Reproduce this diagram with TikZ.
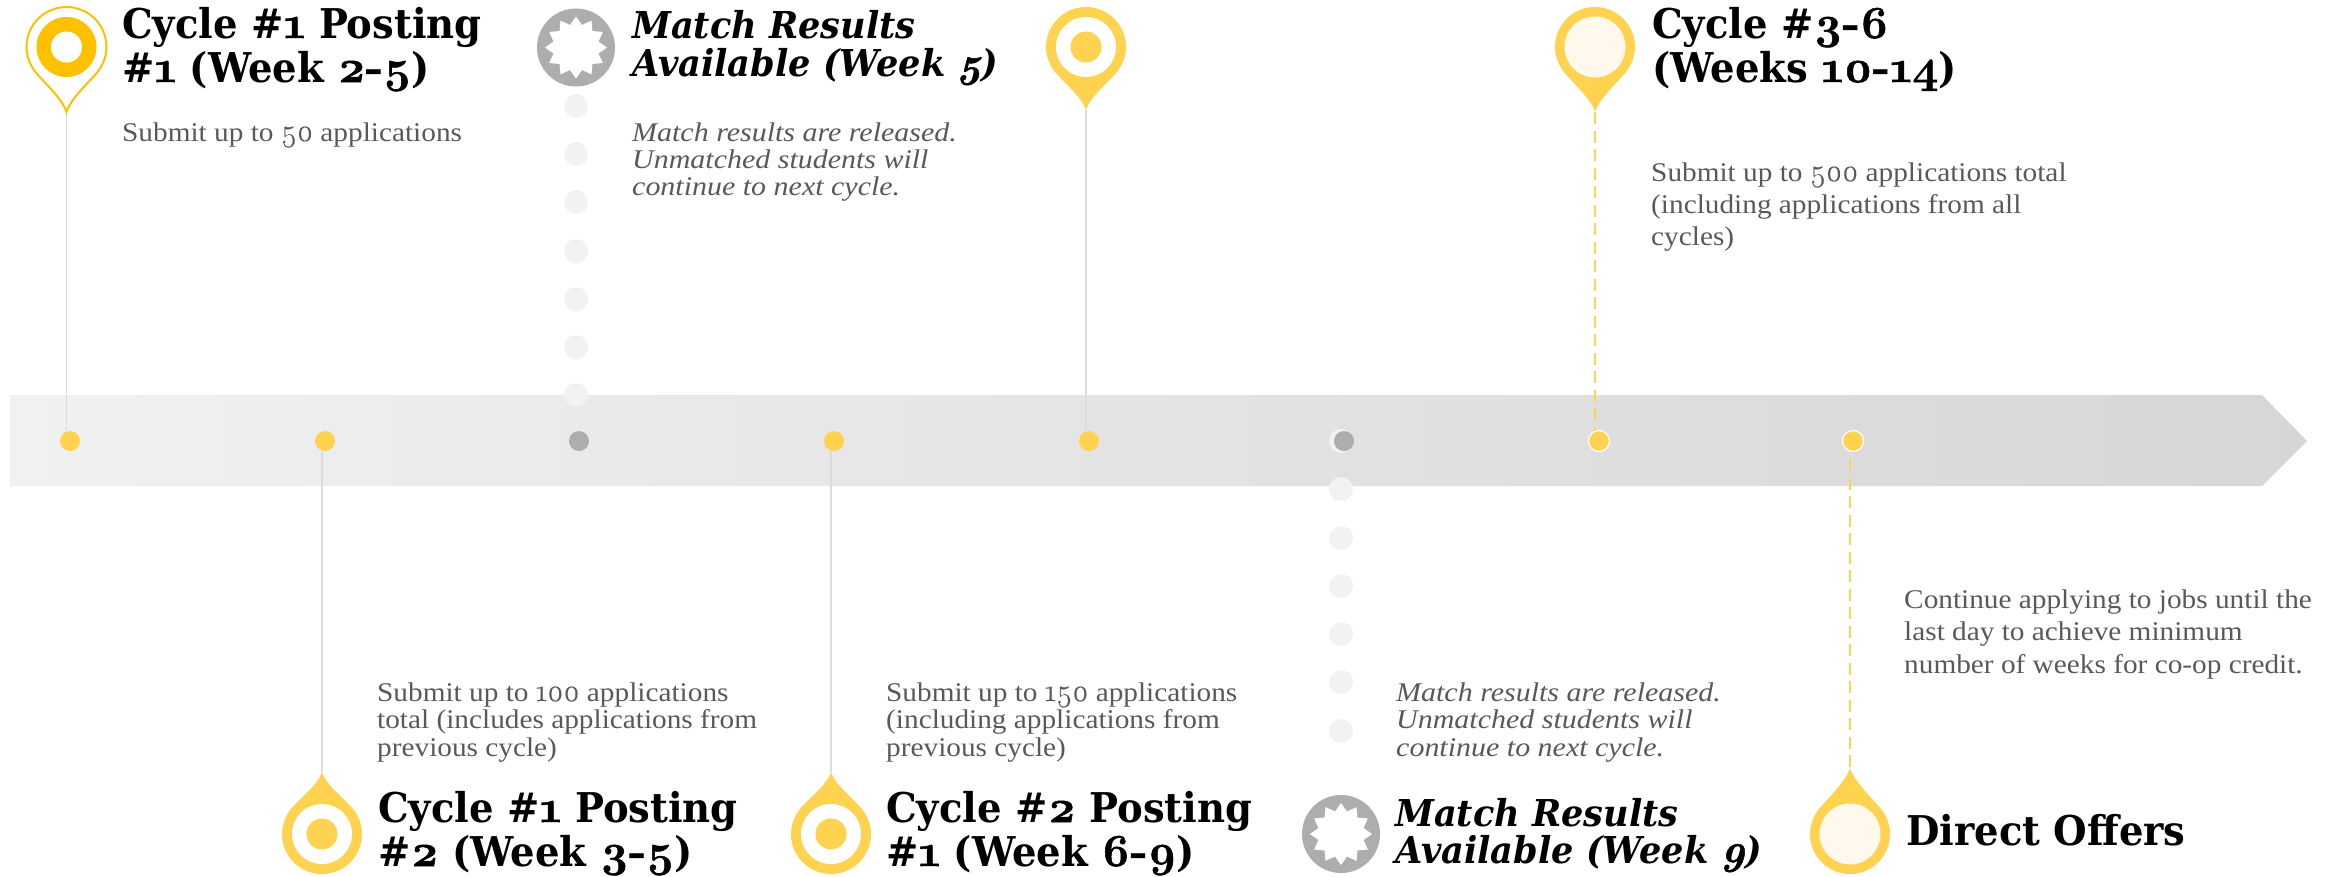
\documentclass[tikz,border=0pt]{standalone}
\usepackage{fontspec}
\usetikzlibrary{shapes.geometric}
\setmainfont{Liberation Serif}
\newfontfamily\bodyfam{Liberation Serif}[FakeStretch=1.085]
\newfontfamily\bodyitfam{Liberation Serif}[FakeStretch=1.11]
\newfontfamily\ttlfam{DejaVu Serif}[FakeStretch=0.94]
\newfontfamily\ttlitfam{DejaVu Serif}[FakeStretch=0.95]
\newfontfamily\onumfam{Latin Modern Roman}[Numbers=OldStyle,Scale=1.15,FakeBold=0.4]
\newfontfamily\onumbfam{Latin Modern Roman}[Numbers=OldStyle,Scale=1.12,FakeBold=1.2]
\newcommand\ON[1]{{\onumfam\mdseries #1}}
\newcommand\ONB[1]{{\onumbfam\bfseries #1}}
\definecolor{pinyellow}{HTML}{FFD34F}
\definecolor{pinorange}{HTML}{FFC000}
\definecolor{badgegray}{HTML}{ADADAD}
\definecolor{paledot}{HTML}{F2F2F2}
\definecolor{cream}{HTML}{FFF8EC}
\definecolor{bodygray}{HTML}{595959}
\definecolor{leader}{HTML}{DCDCDC}
\newcommand\lineblock[1]{\vtop{\lineskiplimit=-100pt #1}}
\newcommand\titlefont[1]{\ttlfam\bfseries\fontsize{#1}{#1}\selectfont}
\newcommand\titleitfont[1]{\ttlitfam\bfseries\itshape\fontsize{#1}{#1}\selectfont}
\tikzset{
  x=1pt,y=-1pt,
  pinhead/.pic={\path[pic actions]
    (0,#1) .. controls (-4,{#1-13}) and (-21,37) .. (-31,25)
    .. controls (-36.6,18) and (-40,9) .. (-40,0)
    .. controls (-40,-22.1) and (-22.1,-40) .. (0,-40)
    .. controls (22.1,-40) and (40,-22.1) .. (40,0)
    .. controls (40,9) and (36.6,18) .. (31,25)
    .. controls (21,37) and (4,{#1-13}) .. (0,#1) -- cycle;},
  marker/.style={circle,fill=pinyellow,minimum size=20,inner sep=0},
  markerw/.style={marker,draw=white,line width=1.2,minimum size=21},
  markerg/.style={marker,fill=badgegray},
  pale/.style={circle,fill=paledot,minimum size=24,inner sep=0},
  disc/.style={circle,minimum size=#1,inner sep=0},
  badge/.style={circle,fill=badgegray,minimum size=78,inner sep=0},
  burst/.style={star,star points=12,star point ratio=1.33,fill=white,minimum size=62,inner sep=0},
  leaderline/.style={leader,line width=1.5},
  dashline/.style={pinyellow,line width=2.6,dash pattern=on 12 off 6.5},
  ttl/.style={anchor=base west,inner sep=0,text=black},
  bodytxt/.style={anchor=base west,inner sep=0,text=bodygray},
}
\begin{document}
\begin{tikzpicture}
\useasboundingbox (0,0) rectangle (2343,876);
% bar
\shade[left color=black!5.5,right color=black!16] (10,395) -- (2262,395) -- (2307,441) -- (2262,486) -- (10,486) -- cycle;

% pale dotted leaders
\foreach \i/\yy in {1/106,2/154,3/202,4/251,5/299,6/347,7/395}
  \node[pale] (ua\i) at (576,\yy) {};
\node[pale] (lb0) at (1341,441) {};
\foreach \i/\yy in {1/489,2/538,3/586,4/634,5/682,6/731}
  \node[pale] (lb\i) at (1341,\yy) {};

% markers
\node[marker]  (d1) at (70,441) {};
\node[marker]  (d2) at (325,441) {};
\node[markerg] (d3) at (579,441) {};
\node[marker]  (d4) at (834,441) {};
\node[marker]  (d5) at (1089,441) {};
\node[markerg] (d6) at (1344,441) {};

% pin anchors
\coordinate (t1) at (66.5,112);
\coordinate (t2) at (322,772);
\coordinate (t4) at (831,772);
\coordinate (t5) at (1086,110);
\coordinate (t7) at (1595,112);
\coordinate (t8) at (1850,768);
\coordinate (s8) at (1850,459);

% connectors
\draw[leaderline] (t1) -- (t1 |- d1.north);
\draw[leaderline] (t2) -- (t2 |- d2.south);
\draw[leaderline] (t4) -- (t4 |- d4.south);
\draw[leaderline] (t5) -- (t5 |- d5.north);
\draw[dashline] (t7) -- (t7 |- d5.north);
\draw[dashline] (s8) -- (t8);
\node[markerw] (d7) at (1599,441) {};
\node[markerw] (d8) at (1853,441) {};

% pin 1
\pic[draw=pinorange,line width=2,fill=white] at (66.5,47) {pinhead=65};
\node[disc=60,fill=pinorange] (p1a) at (66.5,47) {};
\node[disc=31,fill=white] (p1b) at (66.5,47) {};
% pin 2
\pic[fill=pinyellow,yscale=-1] at (322,834) {pinhead=62};
\node[disc=60,fill=white] (p2a) at (322,834) {};
\node[disc=31,fill=pinyellow] (p2b) at (322,834) {};
% pin 4
\pic[fill=pinyellow,yscale=-1] at (831,834) {pinhead=62};
\node[disc=60,fill=white] (p4a) at (831,834) {};
\node[disc=31,fill=pinyellow] (p4b) at (831,834) {};
% pin 5
\pic[fill=pinyellow] at (1086,47) {pinhead=63};
\node[disc=60,fill=white] (p5a) at (1086,47) {};
\node[disc=31,fill=pinyellow] (p5b) at (1086,47) {};
% pin 7
\pic[fill=pinyellow] at (1595,47) {pinhead=65};
\node[disc=61,fill=cream] (p7a) at (1595,47) {};
% pin 8
\pic[fill=pinyellow,yscale=-1] at (1850,834) {pinhead=66};
\node[disc=61,fill=cream] (p8a) at (1850,834) {};
% badges
\node[badge] (b3) at (576,47.5) {};
\node[burst] (b3s) at (576,47.5) {};
\node[badge] (b6) at (1341,834) {};
\node[burst] (b6s) at (1341,834) {};

% titles
\node[ttl,font=\titlefont{41}] (tt1) at (122,38) {\lineblock{\baselineskip=44pt\hbox{Cycle \#\ONB{1} Posting}\hbox{\#\ONB{1} (Week \ONB{2-5})}}};
\node[ttl,font=\titlefont{41}] (tt2) at (378,822) {\lineblock{\baselineskip=44pt\hbox{Cycle \#\ONB{1} Posting}\hbox{\#\ONB{2} (Week \ONB{3-5})}}};
\node[ttl,font=\titlefont{41}] (tt4) at (886,822) {\lineblock{\baselineskip=44pt\hbox{Cycle \#\ONB{2} Posting}\hbox{\#\ONB{1} (Week \ONB{6-9})}}};
\node[ttl,font=\titlefont{41}] (tt7) at (1652,38) {\lineblock{\baselineskip=44pt\hbox{Cycle \#\ONB{3-6}}\hbox{(Weeks \ONB{10-14})}}};
\node[ttl,font=\titlefont{41}] (tt8) at (1906,845) {Direct Offers};
\node[ttl,font=\titleitfont{37}] (tt3) at (632,38) {\lineblock{\baselineskip=38.5pt\hbox{Match Results}\hbox{Available (Week \ONB{5})}}};
\node[ttl,font=\titleitfont{37}] (tt6) at (1395,826) {\lineblock{\baselineskip=37.5pt\hbox{Match Results}\hbox{Available (Week \ONB{9})}}};

% bodies
\newcommand\bfs{\bodyfam\fontsize{27}{27.5}\selectfont}
\newcommand\bfi{\bodyitfam\itshape\fontsize{27}{27.5}\selectfont}
\node[bodytxt,font=\bfs] (bt1) at (122,141) {Submit up to \ON{50} applications};
\node[bodytxt,font=\bfs] (bt2) at (377,701) {\lineblock{\baselineskip=27.5pt\hbox{Submit up to \ON{100} applications}\hbox{total (includes applications from}\hbox{previous cycle)}}};
\node[bodytxt,font=\bfs] (bt4) at (886,701) {\lineblock{\baselineskip=27.5pt\hbox{Submit up to \ON{150} applications}\hbox{(including applications from}\hbox{previous cycle)}}};
\node[bodytxt,font=\bfs] (bt7) at (1651,181) {\lineblock{\baselineskip=32pt\hbox{Submit up to \ON{500} applications total}\hbox{(including applications from all}\hbox{cycles)}}};
\node[bodytxt,font=\bfs] (bt8) at (1904,608) {\lineblock{\baselineskip=32.5pt\hbox{Continue applying to jobs until the}\hbox{last day to achieve minimum}\hbox{number of weeks for co-op credit.}}};
\node[bodytxt,font=\bfi] (bt3) at (632,141) {\lineblock{\baselineskip=27pt\hbox{Match results are released.}\hbox{Unmatched students will}\hbox{continue to next cycle.}}};
\node[bodytxt,font=\bfi] (bt6) at (1396,701) {\lineblock{\baselineskip=27.5pt\hbox{Match results are released.}\hbox{Unmatched students will}\hbox{continue to next cycle.}}};
\end{tikzpicture}
\end{document}
